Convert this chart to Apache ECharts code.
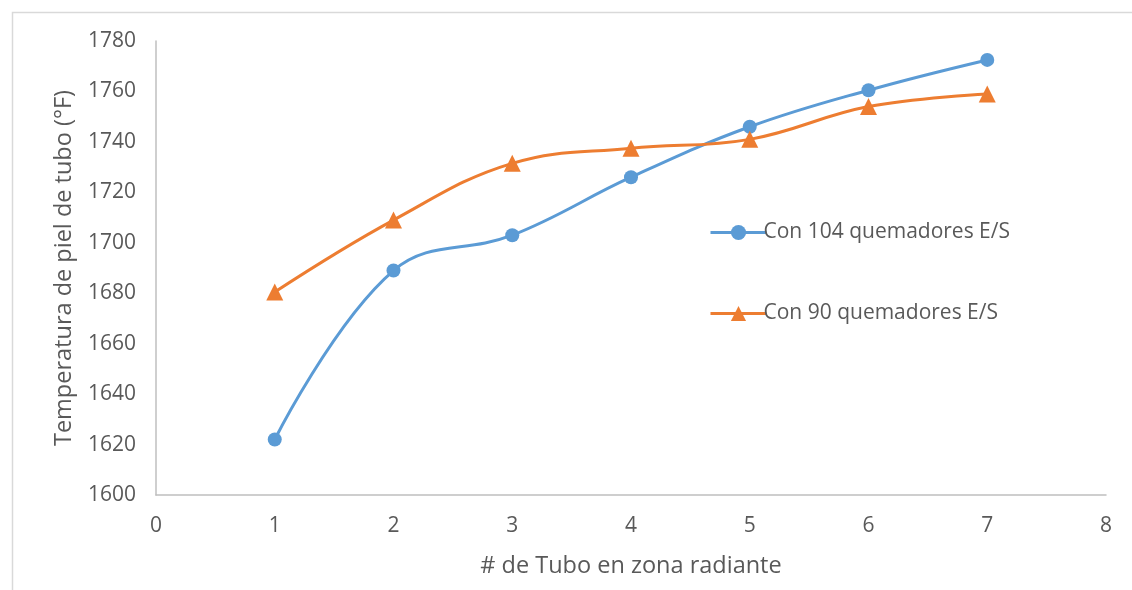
<!DOCTYPE html>
<html>
<head>
<meta charset="utf-8">
<script src="https://cdn.jsdelivr.net/npm/echarts@6/dist/echarts.min.js"></script>
<style>
html,body{margin:0;padding:0;background:#fff;}
#chart{width:1132px;height:590px;}
</style>
</head>
<body>
<div id="chart"></div>
<script>
var tubes = [1, 2, 3, 4, 5, 6, 7];
var con104 = [1622, 1689, 1703, 1726, 1746, 1760.5, 1772.5];
var con90 = [1680.5, 1709, 1731.5, 1737.5, 1741, 1754, 1759];
var seriesNames = ['Con 104 quemadores E/S', 'Con 90 quemadores E/S'];
var xTitle = '# de Tubo en zona radiante';
var yTitle = 'Temperatura de piel de tubo (°F)';

function pairs(xs, ys) { return xs.map(function (x, i) { return [x, ys[i]]; }); }

var FONT = 'Open Sans';
var GREY = '#595959';
var chart = echarts.init(document.getElementById('chart'), null, {renderer: 'canvas'});
chart.setOption({
  animation: false,
  backgroundColor: '#fff',
  graphic: [{
    type: 'rect', left: 10, top: 10,
    shape: {width: 1140, height: 600},
    style: {fill: 'none', stroke: '#d9d9d9', lineWidth: 1.5},
    silent: true
  }],
  grid: {left: 156, right: 26, top: 41, bottom: 95, containLabel: false},
  legend: {
    orient: 'vertical',
    left: 704, top: 217,
    itemGap: 60,
    itemWidth: 56, itemHeight: 19,
    lineStyle: {width: 3},
    textStyle: {fontFamily: FONT, fontSize: 21, color: GREY, padding: [0, 0, 0, -8]},
    data: seriesNames
  },
  xAxis: {
    type: 'value', min: 0, max: 8, interval: 1,
    name: xTitle, nameLocation: 'middle', nameGap: 59,
    nameTextStyle: {fontFamily: FONT, fontSize: 23.5, color: GREY},
    axisLine: {show: true, lineStyle: {color: '#bfbfbf', width: 1.5}},
    axisTick: {show: false},
    splitLine: {show: false},
    axisLabel: {fontFamily: FONT, fontSize: 21, color: GREY, margin: 21}
  },
  yAxis: {
    type: 'value', min: 1600, max: 1780, interval: 20,
    name: yTitle, nameLocation: 'middle', nameGap: 80, nameRotate: 90,
    nameTextStyle: {fontFamily: FONT, fontSize: 23.5, color: GREY},
    axisLine: {show: true, lineStyle: {color: '#bfbfbf', width: 1.5}},
    axisTick: {show: false},
    splitLine: {show: false},
    axisLabel: {fontFamily: FONT, fontSize: 21, color: GREY, margin: 20,
      formatter: function (v) { return String(v); }}
  },
  series: [{
    name: seriesNames[0], type: 'line', smooth: 0.4,
    data: pairs(tubes, con104),
    symbol: 'circle', symbolSize: 14,
    lineStyle: {color: '#5b9bd5', width: 3},
    itemStyle: {color: '#5b9bd5'}
  }, {
    name: seriesNames[1], type: 'line', smooth: 0.4,
    data: pairs(tubes, con90),
    symbol: 'triangle', symbolSize: 17,
    lineStyle: {color: '#ed7d31', width: 3},
    itemStyle: {color: '#ed7d31'}
  }]
});
</script>
</body>
</html>
